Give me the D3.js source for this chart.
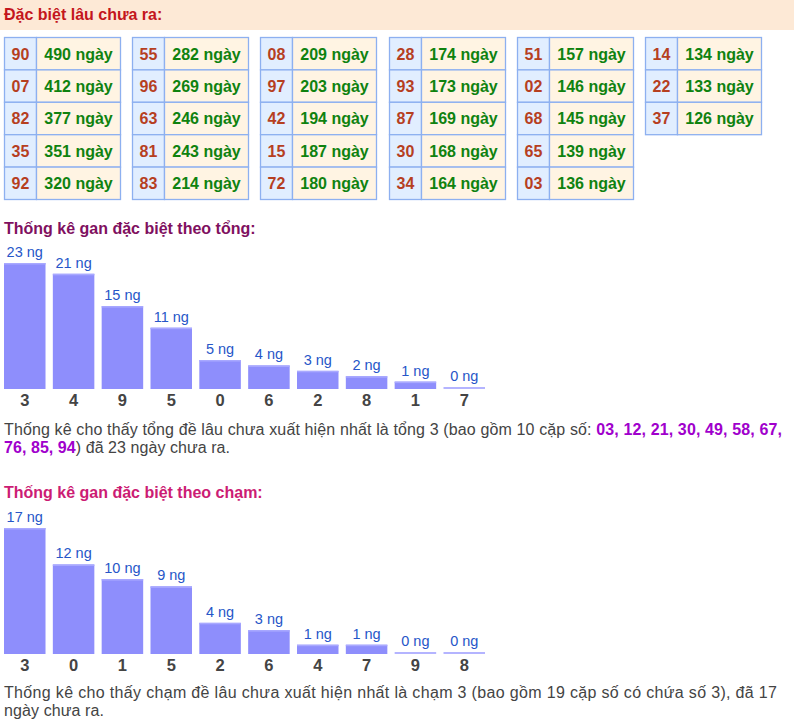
<!DOCTYPE html>
<html><head><meta charset="utf-8">
<script src="https://cdn.jsdelivr.net/npm/d3@7"></script>
<style>
html,body{margin:0;padding:0;background:#fff;}
svg{display:block;font-family:"Liberation Sans",Arial,sans-serif;}
</style></head>
<body>
<svg id="chart" width="794" height="726"></svg>
<script>
// ---- data ----
const headerTitle = "Đặc biệt lâu chưa ra:";
const ganNumbers = ["90","07","82","35","92","55","96","63","81","83","08","97","42","15","72","28","93","87","30","34","51","02","68","65","03","14","22","37"];
const ganDays = [490,412,377,351,320,282,269,246,243,214,209,203,194,187,180,174,173,169,168,164,157,146,145,139,136,134,133,126];

const tongTitle = "Thống kê gan đặc biệt theo tổng:";
const tongCats = ["3","4","9","5","0","6","2","8","1","7"];
const tongValues = [23,21,15,11,5,4,3,2,1,0];

const chamTitle = "Thống kê gan đặc biệt theo chạm:";
const chamCats = ["3","0","1","5","2","6","4","7","9","8"];
const chamValues = [17,12,10,9,4,3,1,1,0,0];

const tongNote1 = "Thống kê cho thấy tổng đề lâu chưa xuất hiện nhất là tổng 3 (bao gồm 10 cặp số: ";
const tongPairs = ["03","12","21","30","49","58","67","76","85","94"];
const tongNote2 = ") đã 23 ngày chưa ra.";
const chamNote = ["Thống kê cho thấy chạm đề lâu chưa xuất hiện nhất là chạm 3 (bao gồm 19 cặp số có chứa số 3), đã 17", "ngày chưa ra."];

// ---- drawing ----
const svg = d3.select("#chart");

// header
svg.append("rect").attr("x",0).attr("y",0).attr("width",794).attr("height",30).attr("fill","#fde9d6");
svg.append("text").attr("x",4).attr("y",20).attr("font-size",16).attr("font-weight","bold")
  .attr("fill","#c4161c").text(headerTitle);

// tables
const rowsPerTable = 5;
const tableX = d3.scaleLinear().domain([0,5]).range([4,645]);
const rowY = d3.scaleLinear().domain([0,5]).range([37.5,199.5]);
const numW = 32, valW = 84;
const rows = ganNumbers.map((n,i)=>({n, d:ganDays[i], t:Math.floor(i/rowsPerTable), r:i%rowsPerTable}));
const cell = svg.append("g").selectAll("g").data(rows).join("g")
  .attr("transform", d=>`translate(${Math.round(tableX(d.t))+0.5},${rowY(d.r)})`);
const rh = rowY(1)-rowY(0);
cell.append("rect").attr("x",0).attr("y",0).attr("width",numW).attr("height",rh)
  .attr("fill","#e1eeff").attr("stroke","#8db0f0").attr("stroke-width",1.3);
cell.append("rect").attr("x",numW).attr("y",0).attr("width",valW).attr("height",rh)
  .attr("fill","#fff4e3").attr("stroke","#8db0f0").attr("stroke-width",1.3);
cell.append("text").attr("x",numW/2).attr("y",rh/2+6).attr("text-anchor","middle")
  .attr("font-size",16).attr("font-weight","bold").attr("fill","#b63f1f").text(d=>d.n);
cell.append("text").attr("x",numW+valW/2).attr("y",rh/2+6).attr("text-anchor","middle")
  .attr("font-size",16).attr("font-weight","bold").attr("fill","#0f820f").text(d=>d.d+" ngày");

// bar charts
function barChart(title, titleColor, titleY, cats, values, baseY){
  svg.append("text").attr("x",4).attr("y",titleY).attr("font-size",16).attr("font-weight","bold")
    .attr("fill",titleColor).text(title);
  const x = d3.scaleBand().domain(cats).range([4,485]).paddingInner(0.15).paddingOuter(0);
  const y = d3.scaleLinear().domain([0,d3.max(values)]).range([baseY-2, baseY-126]);
  const data = cats.map((c,i)=>({c, v:values[i]}));
  const g = svg.append("g");
  g.selectAll("rect.bar").data(data).join("rect").attr("class","bar")
    .attr("x",d=>x(d.c)).attr("width",x.bandwidth())
    .attr("y",d=>y(d.v)).attr("height",d=>baseY-y(d.v))
    .attr("fill",d=>d.v>0?"#8e8efc":"#b4b4ff");
  g.selectAll("rect.top").data(data.filter(d=>d.v>0)).join("rect").attr("class","top")
    .attr("x",d=>x(d.c)).attr("width",x.bandwidth())
    .attr("y",d=>y(d.v)).attr("height",1.5).attr("fill","#a9a9ff");
  g.selectAll("text.val").data(data).join("text").attr("class","val")
    .attr("x",d=>x(d.c)+x.bandwidth()/2).attr("y",d=>y(d.v)-6)
    .attr("text-anchor","middle").attr("font-size",14.5).attr("fill","#2656c8")
    .text(d=>d.v+" ng");
  const axis = d3.axisBottom(x).tickSize(0).tickPadding(0);
  const ag = g.append("g").attr("transform",`translate(0,${baseY+16.5})`).call(axis);
  ag.select(".domain").remove();
  ag.selectAll("text").attr("dy",0).attr("font-size",16.5).attr("font-weight","bold")
    .attr("fill","#444").attr("font-family","Liberation Sans, Arial, sans-serif");
}
barChart(tongTitle, "#7f1060", 234, tongCats, tongValues, 389);
barChart(chamTitle, "#cc1c74", 498, chamCats, chamValues, 654);

// notes
const n1 = svg.append("text").attr("x",4).attr("y",435).attr("font-size",16).attr("fill","#444")
  .attr("textLength",778).attr("lengthAdjust","spacing");
n1.append("tspan").text(tongNote1);
tongPairs.slice(0,7).forEach((p,i)=>{
  n1.append("tspan").attr("font-weight","bold").attr("fill","#a000cc").text(p+(i<6?", ":","));
});
const n2 = svg.append("text").attr("x",4).attr("y",453).attr("font-size",16).attr("fill","#444")
  .attr("textLength",226).attr("lengthAdjust","spacing");
tongPairs.slice(7).forEach((p,i,a)=>{
  n2.append("tspan").attr("font-weight","bold").attr("fill","#a000cc").text(p+(i<a.length-1?", ":""));
});
n2.append("tspan").text(tongNote2);

const chamLens = [773, 100];
svg.append("g").selectAll("text").data(chamNote).join("text")
  .attr("x",4).attr("y",(d,i)=>698+i*18).attr("font-size",16).attr("fill","#444")
  .attr("textLength",(d,i)=>chamLens[i]).attr("lengthAdjust","spacing").text(d=>d);
</script>
</body></html>
